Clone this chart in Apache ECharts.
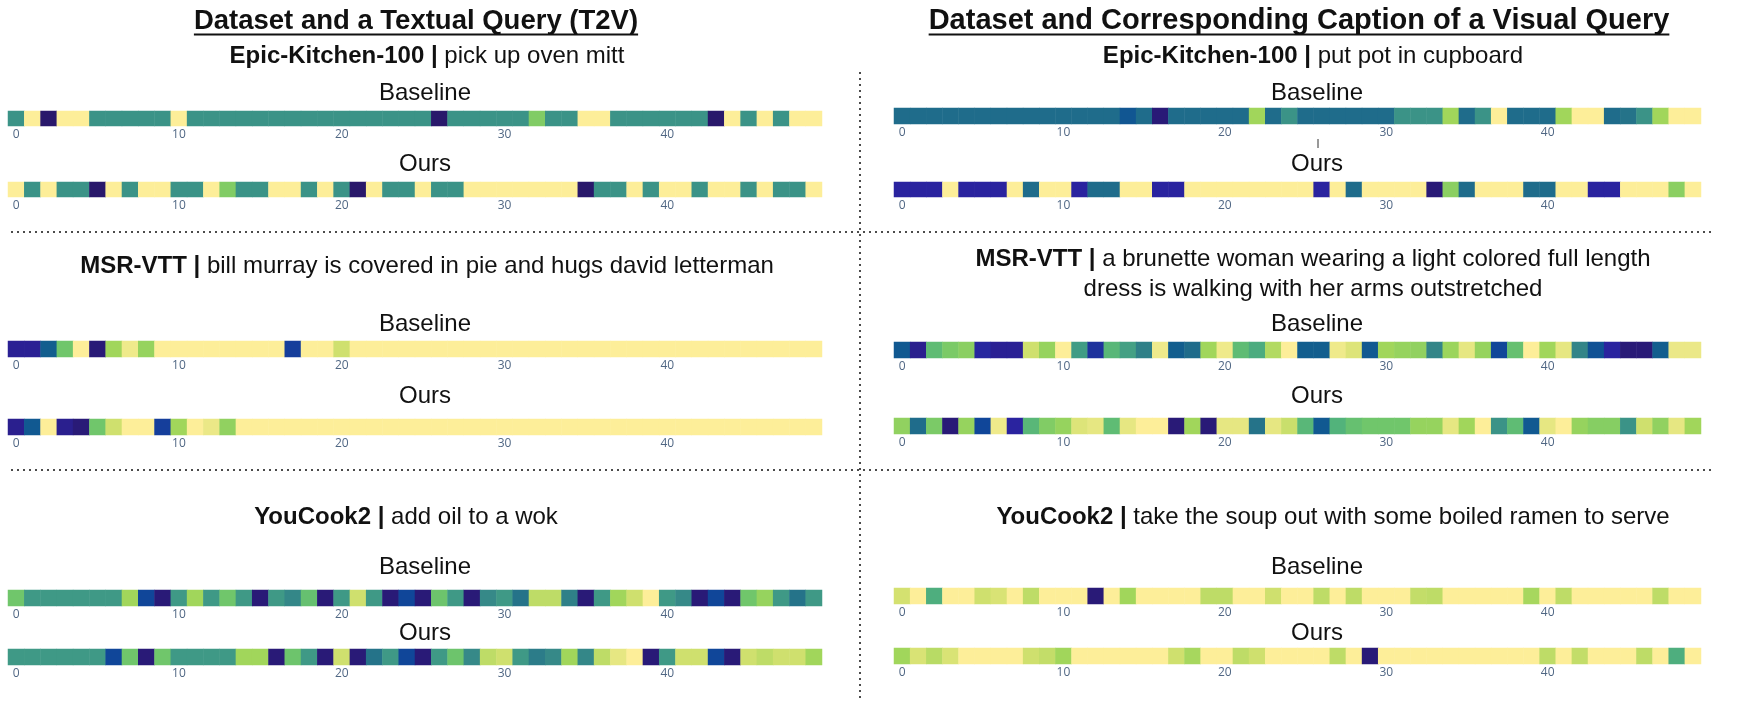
<!DOCTYPE html>
<html><head><meta charset="utf-8">
<script src="https://cdn.jsdelivr.net/npm/echarts@6/dist/echarts.min.js"></script>
<style>html,body{margin:0;padding:0;background:#fff}#c{width:1742px;height:702px}</style>
</head><body><div id="c"></div>
<script>
// ---------------- DATA ----------------
const frameIndex = ['0','1','2','3','4','5','6','7','8','9','10','11','12','13','14','15','16','17','18','19','20','21','22','23','24','25','26','27','28','29','30','31','32','33','34','35','36','37','38','39','40','41','42','43','44','45','46','47','48','49'];

// Textual query (T2V) – left column
const epicT2VBaseline = [0.5,1,0,1,1, 0.5,0.5,0.5,0.5,0.5, 1,0.5,0.5,0.5,0.5, 0.5,0.5,0.5,0.5,0.5, 0.5,0.5,0.5,0.5,0.5, 0.5,0,0.5,0.5,0.5, 0.5,0.5,0.76,0.5,0.5, 1,1,0.5,0.5,0.5, 0.5,0.5,0.5,0,1, 0.5,1,0.5,1,1];
const epicT2VOurs = [1,0.5,1,0.5,0.5, 0,1,0.5,1,1, 0.5,0.5,1,0.76,0.5, 0.5,1,1,0.5,1, 0.5,0,1,0.5,0.5, 1,0.5,0.5,1,1, 1,1,1,1,1, 0,0.5,0.5,1,0.5, 1,1,0.5,1,1, 0.5,1,0.5,0.5,1];
const msrT2VBaseline = [0.07,0.07,0.27,0.73,1, 0.02,0.82,0.97,0.8,1, 1,1,1,1,1, 1,1,0.16,1,1, 0.9,1,1,1,1, 1,1,1,1,1, 1,1,1,1,1, 1,1,1,1,1, 1,1,1,1,1, 1,1,1,1,1];
const msrT2VOurs = [0.06,0.25,1,0.06,0.02, 0.73,0.9,1,1,0.16, 0.82,1,0.96,0.79,1, 1,1,1,1,1, 1,1,1,1,1, 1,1,1,1,1, 1,1,1,1,1, 1,1,1,1,1, 1,1,1,1,1, 1,1,1,1,1];
const ycT2VBaseline = [0.73,0.53,0.53,0.53,0.53, 0.53,0.53,0.82,0.18,0.02, 0.53,0.82,0.53,0.73,0.53, 0.02,0.53,0.45,0.7,0.02, 0.53,0.9,0.53,0.02,0.18, 0.02,0.72,0.53,0.02,0.46, 0.53,0.36,0.87,0.87,0.42, 0.02,0.53,0.82,0.9,1, 0.53,0.46,0.02,0.18,0.02, 0.73,0.8,0.53,0.36,0.53];
const ycT2VOurs = [0.53,0.53,0.53,0.53,0.53, 0.53,0.18,0.73,0.02,0.73, 0.53,0.53,0.53,0.53,0.82, 0.82,0.02,0.72,0.53,0.02, 0.9,0.02,0.36,0.53,0.18, 0.02,0.53,0.72,0.46,0.87, 0.9,0.53,0.4,0.46,0.82, 0.45,0.87,0.95,1,0.02, 0.53,0.9,0.9,0.18,0.02, 0.9,0.87,0.9,0.9,0.82];

// Visual query – right column
const epicV2VBaseline = [0.33,0.33,0.33,0.33,0.33, 0.33,0.33,0.33,0.33,0.33, 0.33,0.33,0.33,0.33,0.24, 0.33,0.02,0.33,0.33,0.33, 0.33,0.33,0.82,0.33,0.5, 0.33,0.33,0.33,0.33,0.33, 0.33,0.5,0.5,0.5,0.82, 0.33,0.5,1,0.33,0.33, 0.33,0.82,1,1,0.33, 0.36,0.5,0.82,1,1];
const epicV2VOurs = [0.09,0.09,0.09,1,0.09, 0.09,0.09,1,0.33,1, 1,0.09,0.33,0.33,1, 1,0.09,0.09,1,1, 1,1,1,1,1, 1,0.09,1,0.33,1, 1,1,1,0.02,0.78, 0.33,1,1,1,0.33, 0.33,1,1,0.09,0.09, 1,1,1,0.78,1];
const msrV2VBaseline = [0.25,0.06,0.68,0.75,0.78, 0.1,0.07,0.07,0.9,0.8, 1,0.54,0.13,0.66,0.56, 0.42,0.97,0.27,0.33,0.82, 0.97,0.68,0.61,0.85,1, 0.27,0.27,0.97,0.93,0.25, 0.82,0.8,0.79,0.44,0.81, 0.95,0.8,0.18,0.7,1, 0.82,0.95,0.44,0.22,0.09, 0.02,0.02,0.27,0.96,0.96];
const msrV2VOurs = [0.79,0.33,0.75,0.02,0.8, 0.18,0.97,0.09,0.66,0.76, 0.8,0.93,0.95,0.68,0.95, 1,1,0.02,0.82,0.02, 0.95,0.95,0.36,0.95,0.89, 0.66,0.25,0.64,0.7,0.73, 0.73,0.73,0.8,0.8,0.95, 0.82,1,0.5,0.68,0.25, 0.95,1,0.8,0.77,0.77, 0.5,0.9,0.79,0.95,0.82];
const ycV2VBaseline = [0.91,1,0.62,1,1, 0.9,0.92,1,0.87,1, 1,1,0.02,1,0.82, 1,1,1,1,0.87, 0.87,1,1,0.9,1, 1,0.87,1,0.87,1, 1,1,0.88,0.87,1, 1,1,1,1,0.83, 1,0.87,1,1,1, 1,1,0.87,1,1];
const ycV2VOurs = [0.82,0.92,0.86,0.92,1, 1,1,1,0.9,0.88, 0.82,1,1,1,1, 1,1,0.9,0.83,1, 1,0.87,0.9,1,1, 1,1,0.87,1,0.02, 1,1,1,1,1, 1,1,1,1,1, 0.87,1,0.88,1,1, 1,0.87,1,0.62,1];

const headers = ['Dataset and a Textual Query (T2V)', 'Dataset and Corresponding Caption of a Visual Query'];
const captionsLeft = [['Epic-Kitchen-100 |', ' pick up oven mitt'], ['MSR-VTT |', ' bill murray is covered in pie and hugs david letterman'], ['YouCook2 |', ' add oil to a wok']];
const captionsRight = [['Epic-Kitchen-100 |', ' put pot in cupboard'], ['MSR-VTT |', ' a brunette woman wearing a light colored full length', 'dress is walking with her arms outstretched'], ['YouCook2 |', ' take the soup out with some boiled ramen to serve']];
const rowLabels = ['Baseline', 'Ours'];

// ---------------- STYLE / LAYOUT ----------------
const haline = ['#29186b','#2a23a0','#0f4799','#125f8e','#267489','#358888','#419d85','#51b27c','#6fc66b','#a0d65b','#d4e170','#fdee99'];
const FONT = '"Liberation Sans", Arial, sans-serif';
const L = {left: 8, width: 814}, R = {left: 894, width: 807};
const panels = [
  [epicT2VBaseline, L, 111, 15], [epicT2VOurs, L, 182, 15],
  [msrT2VBaseline, L, 341, 16], [msrT2VOurs, L, 419, 16],
  [ycT2VBaseline, L, 590, 16], [ycT2VOurs, L, 649, 16],
  [epicV2VBaseline, R, 108, 16], [epicV2VOurs, R, 182, 15],
  [msrV2VBaseline, R, 342, 16], [msrV2VOurs, R, 418, 16],
  [ycV2VBaseline, R, 588, 16], [ycV2VOurs, R, 648, 16]
];

const grid = [], xAxis = [], yAxis = [], series = [];
panels.forEach((p, i) => {
  const [vals, col, top, h] = p;
  grid.push({left: col.left, top: top, width: col.width, height: h, containLabel: false});
  xAxis.push({type: 'category', gridIndex: i, data: frameIndex, boundaryGap: true,
    axisLine: {show: false}, axisTick: {show: false}, splitLine: {show: false},
    axisLabel: {interval: 9, fontSize: 12, color: '#506784', margin: 3, fontFamily: '"Open Sans", sans-serif'}});
  yAxis.push({type: 'category', gridIndex: i, data: [''], show: false});
  series.push({type: 'heatmap', xAxisIndex: i, yAxisIndex: i,
    data: vals.map((v, k) => [k, 0, v]), itemStyle: {borderWidth: 0}, emphasis: {disabled: true}});
});

function textW(str, font) {
  const c = document.createElement('canvas').getContext('2d');
  c.font = font; return c.measureText(str).width;
}

const graphic = [];
const txt = (x, y, text, size, weight) => graphic.push({type: 'text', x, y, silent: true,
  style: {text, fontSize: size, fontWeight: weight || 'normal', fontFamily: FONT, fill: '#111', align: 'center', verticalAlign: 'middle'}});
const rich = (x, y, b, r, size) => graphic.push({type: 'text', x, y, silent: true,
  style: {text: '{b|' + b + '}{r|' + r + '}', fontSize: size, fontFamily: FONT, fill: '#111', align: 'center', verticalAlign: 'middle',
    rich: {b: {fontSize: size, fontWeight: 'bold', fontFamily: FONT, fill: '#111'}, r: {fontSize: size, fontFamily: FONT, fill: '#111'}}}});

// headers with underline
[[416, headers[0], 27.5], [1299, headers[1], 29]].forEach(([x, t, s]) => {
  txt(x, 21, t, s, 'bold');
  const w = textW(t, 'bold ' + s + 'px ' + FONT);
  graphic.push({type: 'line', silent: true, shape: {x1: x - w / 2, y1: 34.5, x2: x + w / 2, y2: 34.5}, style: {stroke: '#111', lineWidth: 2}});
});

const capSize = 24, lblSize = 24;
const CLX = 427, CRX = 1313;
rich(CLX, 56, captionsLeft[0][0], captionsLeft[0][1], capSize);
rich(CLX, 266, captionsLeft[1][0], captionsLeft[1][1], capSize);
rich(CLX - 21, 517, captionsLeft[2][0], captionsLeft[2][1], capSize);
rich(CRX, 56, captionsRight[0][0], captionsRight[0][1], capSize);
rich(CRX, 259, captionsRight[1][0], captionsRight[1][1], capSize);
txt(CRX, 289, captionsRight[1][2], capSize);
rich(CRX + 20, 517, captionsRight[2][0], captionsRight[2][1], capSize);

[[93, 164], [324, 396], [567, 633]].forEach(([yb, yo]) => {
  txt(425, yb, rowLabels[0], lblSize); txt(425, yo, rowLabels[1], lblSize);
  txt(1317, yb, rowLabels[0], lblSize); txt(1317, yo, rowLabels[1], lblSize);
});

// dotted separators
const dot = {stroke: '#111', lineWidth: 1.5, lineDash: [2, 4]};
graphic.push({type: 'line', silent: true, shape: {x1: 860, y1: 72, x2: 860, y2: 702}, style: dot});
graphic.push({type: 'line', silent: true, shape: {x1: 11, y1: 232, x2: 1714, y2: 232}, style: dot});
graphic.push({type: 'line', silent: true, shape: {x1: 11, y1: 470, x2: 1714, y2: 470}, style: dot});
// small stray mark under right Epic baseline strip
graphic.push({type: 'line', silent: true, shape: {x1: 1318, y1: 139, x2: 1318, y2: 148}, style: {stroke: '#333', lineWidth: 1}});

const chart = echarts.init(document.getElementById('c'), null, {renderer: 'canvas'});
chart.setOption({
  animation: false,
  backgroundColor: '#fff',
  grid, xAxis, yAxis, series, graphic,
  visualMap: {type: 'continuous', min: 0, max: 1, dimension: 2, show: false, inRange: {color: haline}}
});
</script></body></html>
